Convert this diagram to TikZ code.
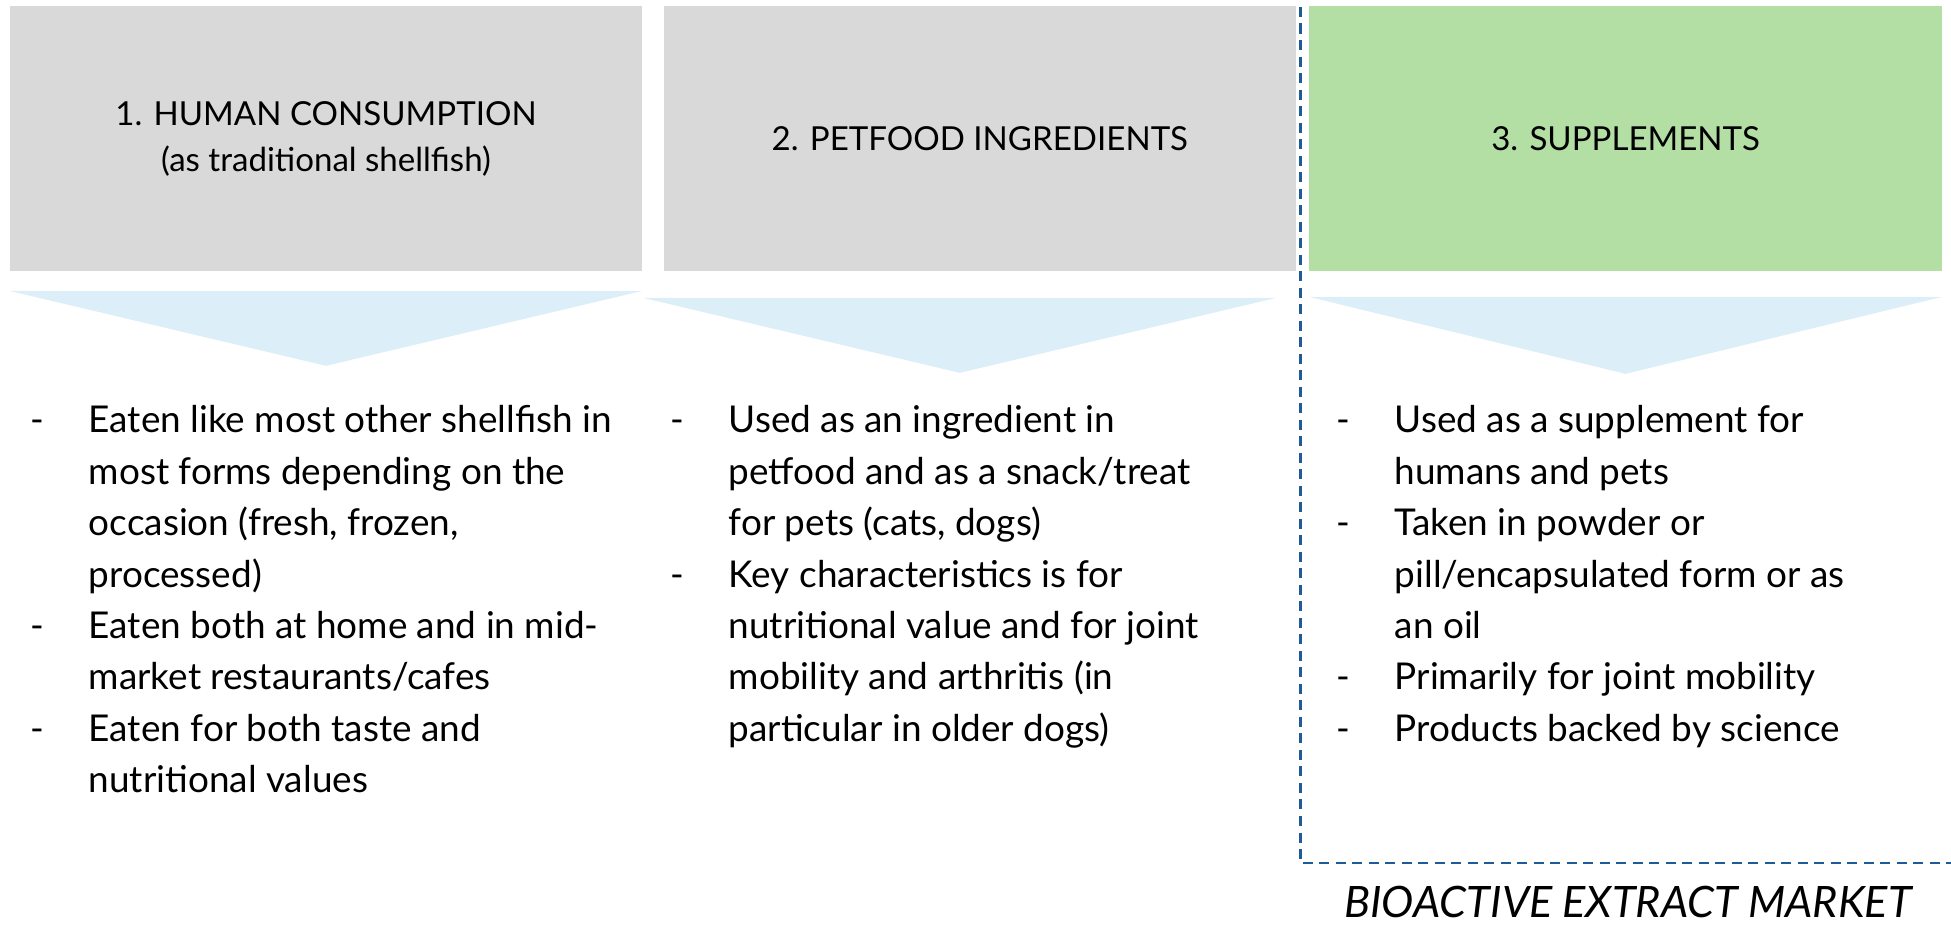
\documentclass[tikz,border=0pt]{standalone}
\usepackage{fontspec}
\setmainfont{Lato}
\usepackage{xcolor}
\usetikzlibrary{positioning}
\definecolor{boxgray}{HTML}{D9D9D9}
\definecolor{boxgreen}{HTML}{B3DFA5}
\definecolor{chevblue}{HTML}{DCEEF8}
\definecolor{marketblue}{HTML}{1F5A99}

\begin{document}
\begin{tikzpicture}[x=0.01cm,y=-0.01cm,
  head/.style={minimum width=6.32cm,minimum height=2.65cm,inner sep=0pt,align=center,
    font=\fontsize{9.4}{13.1}\selectfont},
  chev/.style={fill=chevblue},
  items/.style={inner sep=0pt,anchor=base west,font=\fontsize{10.5}{14.6}\selectfont}]
  \useasboundingbox (0,0) rectangle (1951,925);

  % 見出し
  \node[head,fill=boxgray] (hum) at (326,138.5) {1. HUMAN CONSUMPTION\\(as traditional shellfish)};
  \node[head,fill=boxgray,right=0.2cm of hum] (pet) {2. PETFOOD INGREDIENTS};
  \node[head,fill=boxgreen,right=0.12cm of pet] (sup) {3. SUPPLEMENTS};

  % 三角形
  \fill[chev] ([yshift=-0.19cm]hum.south west) -- ([yshift=-0.19cm]hum.south east) -- ([yshift=-0.94cm]hum.south) -- cycle;
  \fill[chev] ([xshift=-0.2cm,yshift=-0.26cm]pet.south west) -- ([xshift=-0.2cm,yshift=-0.26cm]pet.south east) -- ([xshift=-0.2cm,yshift=-1.01cm]pet.south) -- cycle;
  \fill[chev] ([yshift=-0.25cm]sup.south west) -- ([yshift=-0.25cm]sup.south east) -- ([yshift=-1.02cm]sup.south) -- cycle;

  % 本文
  \node[items] (humtxt) at (30,433) {\begin{tabular}[t]{@{}p{0.58cm}@{}l@{}}
    - & Eaten like most other shellfish in\\
      & most forms depending on the\\
      & occasion (fresh, frozen,\\
      & processed)\\
    - & Eaten both at home and in mid-\\
      & market restaurants/cafes\\
    - & Eaten for both taste and\\
      & nutritional values
  \end{tabular}};
  \node[items] (pettxt) at (670,433) {\begin{tabular}[t]{@{}p{0.58cm}@{}l@{}}
    - & Used as an ingredient in\\
      & petfood and as a snack/treat\\
      & for pets (cats, dogs)\\
    - & Key characteristics is for\\
      & nutritional value and for joint\\
      & mobility and arthritis (in\\
      & particular in older dogs)
  \end{tabular}};
  \node[items] (suptxt) at (1336,433) {\begin{tabular}[t]{@{}p{0.58cm}@{}l@{}}
    - & Used as a supplement for\\
      & humans and pets\\
    - & Taken in powder or\\
      & pill/encapsulated form or as\\
      & an oil\\
    - & Primarily for joint mobility\\
    - & Products backed by science
  \end{tabular}};

  % 破線
  \coordinate (dtop) at (1300,7);
  \coordinate (dcorner) at (1300,863);
  \coordinate (dend) at (1951,863);
  \draw[marketblue,line width=0.85pt,dash pattern=on 0.1cm off 0.065cm] (dtop) -- (dcorner) -- (dend);
  \node[anchor=base,inner sep=0pt,font=\fontsize{12.3}{14}\selectfont\itshape] (mkt) at (1628,918) {BIOACTIVE EXTRACT MARKET};
\end{tikzpicture}
\end{document}
